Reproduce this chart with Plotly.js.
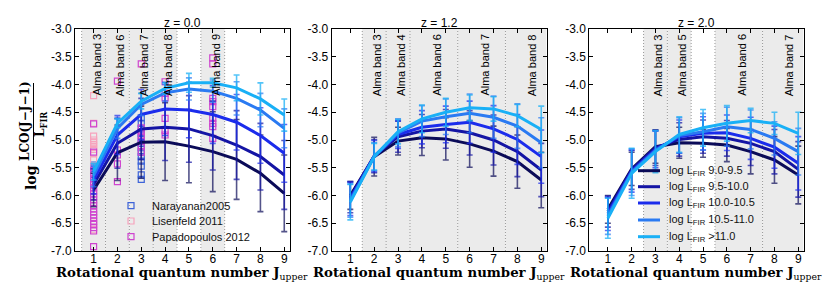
<!DOCTYPE html>
<html><head><meta charset="utf-8">
<script src="https://cdn.plot.ly/plotly-3.0.1.min.js"></script>
<style>html,body{margin:0;padding:0;background:#fff}#chart{width:831px;height:292px}</style>
</head><body><div id="chart"></div>
<script>
// ---------- data ----------
const J = [1, 2, 3, 4, 5, 6, 7, 8, 9];
const xTickLabels = ['1','2','3','4','5','6','7','8','9'];
const yTickVals = [-3.0,-3.5,-4.0,-4.5,-5.0,-5.5,-6.0,-6.5,-7.0];
const yTickLabels = ['-3.0','-3.5','-4.0','-4.5','-5.0','-5.5','-6.0','-6.5','-7.0'];
const panelTitles = ['z = 0.0', 'z = 1.2', 'z = 2.0'];
const lumLabels = ['log L<sub>FIR</sub> 9.0-9.5', 'log L<sub>FIR</sub> 9.5-10.0', 'log L<sub>FIR</sub> 10.0-10.5', 'log L<sub>FIR</sub> 10.5-11.0', 'log L<sub>FIR</sub> >11.0'];

// z = 0.0
const z0_s1 = [-5.90, -5.23, -5.04, -5.03, -5.11, -5.21, -5.35, -5.60, -5.96];
const z0_s2 = [-5.80, -5.06, -4.80, -4.77, -4.80, -4.92, -5.09, -5.30, -5.63];
const z0_s3 = [-5.72, -4.91, -4.54, -4.44, -4.46, -4.54, -4.68, -4.92, -5.24];
const z0_s4 = [-5.64, -4.79, -4.36, -4.15, -4.08, -4.12, -4.25, -4.46, -4.79];
const z0_s5 = [-5.57, -4.70, -4.30, -4.07, -3.97, -3.97, -4.06, -4.26, -4.55];
const z0_e1 = [0.30, 0.50, 0.65, 0.70, 0.66, 0.72, 0.72, 0.69, 0.69];
const z0_e2 = [0.28, 0.45, 0.55, 0.60, 0.60, 0.62, 0.62, 0.60, 0.62];
const z0_e3 = [0.25, 0.35, 0.45, 0.48, 0.50, 0.52, 0.50, 0.50, 0.52];
const z0_e4 = [0.20, 0.18, 0.20, 0.15, 0.20, 0.20, 0.30, 0.30, 0.35];
const z0_e5 = [0.15, 0.08, 0.14, 0.10, 0.17, 0.08, 0.23, 0.29, 0.29];

// z = 1.2
const z1_s1 = [-6.00, -5.30, -5.02, -4.96, -4.98, -5.07, -5.20, -5.39, -5.72];
const z1_s2 = [-6.03, -5.29, -4.94, -4.84, -4.80, -4.87, -5.00, -5.21, -5.54];
const z1_s3 = [-6.06, -5.29, -4.90, -4.77, -4.72, -4.68, -4.80, -4.99, -5.30];
const z1_s4 = [-6.09, -5.30, -4.87, -4.66, -4.58, -4.52, -4.59, -4.75, -5.05];
const z1_s5 = [-6.12, -5.30, -4.85, -4.62, -4.50, -4.42, -4.44, -4.56, -4.81];
const z1_e1 = [0.25, 0.35, 0.25, 0.32, 0.38, 0.42, 0.45, 0.48, 0.50];
const z1_e2 = [0.28, 0.30, 0.28, 0.30, 0.35, 0.40, 0.45, 0.45, 0.48];
const z1_e3 = [0.30, 0.28, 0.25, 0.30, 0.33, 0.38, 0.42, 0.45, 0.48];
const z1_e4 = [0.30, 0.25, 0.25, 0.28, 0.32, 0.35, 0.38, 0.40, 0.45];
const z1_e5 = [0.32, 0.24, 0.22, 0.25, 0.25, 0.23, 0.22, 0.20, 0.42];

// z = 2.0
const z2_s1 = [-6.25, -5.52, -5.12, -5.05, -5.06, -5.09, -5.21, -5.36, -5.63];
const z2_s2 = [-6.29, -5.54, -5.14, -4.99, -4.94, -4.97, -5.06, -5.21, -5.53];
const z2_s3 = [-6.33, -5.56, -5.17, -4.94, -4.88, -4.87, -4.97, -5.13, -5.42];
const z2_s4 = [-6.37, -5.58, -5.19, -4.92, -4.85, -4.76, -4.81, -4.97, -5.21];
const z2_s5 = [-6.41, -5.60, -5.21, -4.90, -4.78, -4.70, -4.65, -4.70, -4.88];
const z2_e1 = [0.25, 0.30, 0.30, 0.28, 0.25, 0.30, 0.40, 0.42, 0.52];
const z2_e2 = [0.28, 0.35, 0.32, 0.30, 0.30, 0.32, 0.40, 0.40, 0.50];
const z2_e3 = [0.30, 0.38, 0.33, 0.30, 0.30, 0.32, 0.38, 0.38, 0.48];
const z2_e4 = [0.33, 0.42, 0.35, 0.32, 0.33, 0.35, 0.35, 0.30, 0.42];
const z2_e5 = [0.36, 0.45, 0.38, 0.32, 0.33, 0.32, 0.22, 0.20, 0.38];

// observations (z = 0.0 panel)
const obsNames = ['Narayanan2005', 'Lisenfeld 2011', 'Papadopoulos 2012'];
const nar_x = [1, 1, 1, 3, 3, 3, 3, 3, 3, 3, 3, 3, 3, 3, 3, 3];
const nar_y = [-5.45, -5.55, -5.62, -4.60, -4.70, -4.80, -4.88, -4.97, -5.06, -5.14, -5.22, -5.30, -5.38, -5.47, -5.63, -5.71];
const lis_x = [1, 1, 1, 1, 1, 1, 1, 1, 1, 1, 1, 1, 1];
const lis_y = [-4.20, -4.70, -4.93, -5.00, -5.04, -5.08, -5.12, -5.17, -5.24, -5.36, -5.48, -6.50, -6.62];
const pap_x = [1,1,1,1,1,1,1,1,1,1,1,1,1,1,1,1,1,1,1,1,1,1,1,1, 2,2,2,2,2, 3,3,3,3,3,3,3, 4,4,4,4,4,4, 6,6,6,6,6,6,6,6,6];
const pap_y = [-4.71,-5.22,-5.55,-5.60,-5.66,-5.70,-5.76,-5.80,-5.86,-5.92,-5.97,-6.02,-6.08,-6.13,-6.18,-6.24,-6.30,-6.35,-6.40,-6.46,-6.52,-6.58,-6.64,-6.92,
               -3.94,-5.18,-5.27,-5.43,-5.75,
               -3.63,-4.78,-4.85,-4.93,-5.02,-5.10,-5.22,
               -3.95,-4.16,-4.24,-4.61,-4.83,-4.91,
               -3.52,-3.63,-4.25,-4.31,-4.40,-4.61,-4.70,-4.76,-4.97];

// ALMA bands per panel (J ranges)
const z0_bandLo = [0.5, 1.5, 2.5, 3.5, 5.5];
const z0_bandHi = [1.5, 2.5, 3.5, 4.5, 6.5];
const z0_bandLabels = ['Alma band 3', 'Alma band 6', 'Alma band 7', 'Alma band 8', 'Alma band 9'];
const z1_bandLo = [1.5, 2.5, 3.5, 5.5, 7.5];
const z1_bandHi = [2.5, 3.5, 5.5, 7.5, 9.5];
const z1_bandLabels = ['Alma band 3', 'Alma band 4', 'Alma band 6', 'Alma band 7', 'Alma band 8'];
const z2_bandLo = [2.5, 3.5, 5.5, 7.5];
const z2_bandHi = [3.5, 4.5, 7.5, 9.5];
const z2_bandLabels = ['Alma band 3', 'Alma band 5', 'Alma band 6', 'Alma band 7'];

// ---------- styling ----------
const lumColors = ['#0b0b58', '#1414a4', '#1b2cec', '#2a7af2', '#19b0f6'];
const errColors = ['rgba(11,11,88,0.7)', 'rgba(20,20,164,0.7)', 'rgba(27,44,236,0.7)', 'rgba(42,122,242,0.7)', 'rgba(25,176,246,0.75)'];
const obsColors = ['#3d63d8', '#f7a3bd', '#cf45cf'];
const W = 831, H = 292;
const xDomains = [[75/W, 289.5/W], [331.7/W, 546.5/W], [589.3/W, 803.5/W]];
const yDomain = [1 - 251/H, 1 - 29/H];
const XMIN = 0.22, XMAX = 9.22;
const SANS = 'Liberation Sans, Arial, sans-serif';
const SERIF = 'DejaVu Serif, Liberation Serif, serif';

const panels = [
  {series: [z0_s1, z0_s2, z0_s3, z0_s4, z0_s5], errs: [z0_e1, z0_e2, z0_e3, z0_e4, z0_e5], lo: z0_bandLo, hi: z0_bandHi, labels: z0_bandLabels},
  {series: [z1_s1, z1_s2, z1_s3, z1_s4, z1_s5], errs: [z1_e1, z1_e2, z1_e3, z1_e4, z1_e5], lo: z1_bandLo, hi: z1_bandHi, labels: z1_bandLabels},
  {series: [z2_s1, z2_s2, z2_s3, z2_s4, z2_s5], errs: [z2_e1, z2_e2, z2_e3, z2_e4, z2_e5], lo: z2_bandLo, hi: z2_bandHi, labels: z2_bandLabels}
];

const traces = [];
const obsX = [nar_x, lis_x, pap_x], obsY = [nar_y, lis_y, pap_y];
for (let k = 0; k < 3; k++) {
  traces.push({
    type: 'scatter', mode: 'markers', x: obsX[k], y: obsY[k], name: obsNames[k],
    xaxis: 'x', yaxis: 'y', showlegend: false,
    marker: {symbol: 'square-open', size: 6, color: obsColors[k], line: {width: 1.2, color: obsColors[k]}}
  });
}

const layout = {
  width: W, height: H,
  margin: {l: 0, r: 0, t: 0, b: 0},
  paper_bgcolor: '#fff', plot_bgcolor: '#fff',
  font: {family: SANS, size: 12, color: '#000'},
  showlegend: false,
  shapes: [], annotations: []
};

panels.forEach((p, pi) => {
  const sfx = pi === 0 ? '' : String(pi + 1);
  const xa = 'x' + sfx, ya = 'y' + sfx;
  p.series.forEach((s, i) => {
    traces.push({
      type: 'scatter', mode: 'lines', x: J, y: s, name: lumLabels[i],
      xaxis: xa, yaxis: ya, showlegend: false,
      line: {color: lumColors[i], width: 3},
      error_y: {type: 'data', array: p.errs[i], visible: true, color: errColors[i], thickness: 1.6, width: 3}
    });
  });
  layout['xaxis' + sfx] = {
    domain: xDomains[pi], range: [XMIN, XMAX], anchor: ya,
    tickvals: J, ticktext: xTickLabels, ticks: 'inside', ticklen: 4, tickcolor: '#000',
    showline: true, linecolor: '#000', linewidth: 1, mirror: 'ticks', ticklabelstandoff: -3,
    showgrid: false, zeroline: false, tickfont: {family: SANS, size: 12, color: '#000'}
  };
  layout['yaxis' + sfx] = {
    domain: yDomain, range: [-7, -3], anchor: xa,
    tickvals: yTickVals, ticktext: yTickLabels, ticks: 'inside', ticklen: 4, tickcolor: '#000',
    showline: true, linecolor: '#000', linewidth: 1, mirror: 'ticks',
    showgrid: false, zeroline: false, tickfont: {family: SANS, size: 12, color: '#000'}
  };
  const bounds = new Set();
  p.lo.forEach((lo, b) => {
    const hi = Math.min(p.hi[b], XMAX);
    layout.shapes.push({type: 'rect', xref: xa, yref: ya + ' domain', x0: lo, x1: hi, y0: 0, y1: 1,
      fillcolor: '#ebebeb', line: {width: 0}, layer: 'below'});
    bounds.add(lo); if (p.hi[b] < XMAX) bounds.add(p.hi[b]);
    layout.annotations.push({xref: xa, yref: ya + ' domain', x: (lo + p.hi[b]) / 2, y: 1, xshift: 3, yshift: -3,
      xanchor: 'center', yanchor: 'top', text: p.labels[b], textangle: -90, showarrow: false,
      font: {family: SANS, size: 11, color: '#000'}});
  });
  bounds.forEach(v => {
    layout.shapes.push({type: 'line', xref: xa, yref: ya + ' domain', x0: v, x1: v, y0: 0, y1: 1,
      line: {color: '#999', width: 1, dash: '1px,2px'}, layer: 'below'});
  });
  layout.annotations.push({xref: xa + ' domain', yref: ya + ' domain', x: 0.5, y: 1, yshift: -3,
    xanchor: 'center', yanchor: 'bottom', text: panelTitles[pi], showarrow: false,
    font: {family: SANS, size: 12, color: '#000'}});
  layout.annotations.push({xref: xa + ' domain', yref: 'paper', x: 0.5, y: 1 - 273/H,
    xanchor: 'center', yanchor: 'middle', showarrow: false,
    text: '<b>Rotational quantum number J</b><sub>upper</sub>',
    font: {family: SERIF, size: 13.3, color: '#000'}});
});

// legend for observations (panel 1)
const obsLegY = [205.7, 221, 236.7];
obsNames.forEach((n, k) => {
  layout.shapes.push({type: 'rect', xref: 'paper', yref: 'paper', x0: 128/W, x1: 134/W,
    y0: 1 - (obsLegY[k] - 3)/H, y1: 1 - (obsLegY[k] + 3)/H, line: {color: obsColors[k], width: 1.2}, fillcolor: 'rgba(0,0,0,0)'});
  layout.annotations.push({xref: 'paper', yref: 'paper', x: 150/W, y: 1 - obsLegY[k]/H, xanchor: 'left', yanchor: 'middle',
    text: n, showarrow: false, font: {family: SANS, size: 11, color: '#111'}});
});
// legend for luminosity bins (panel 3)
const lumLegY = [170.7, 186.7, 203, 220, 236.7];
lumLabels.forEach((n, i) => {
  layout.shapes.push({type: 'line', xref: 'paper', yref: 'paper', x0: 638/W, x1: 660/W,
    y0: 1 - lumLegY[i]/H, y1: 1 - lumLegY[i]/H, line: {color: lumColors[i], width: 3}});
  layout.annotations.push({xref: 'paper', yref: 'paper', x: 667/W, y: 1 - lumLegY[i]/H, xanchor: 'left', yanchor: 'middle',
    text: n, showarrow: false, font: {family: SANS, size: 11, color: '#111'}});
});

// y-axis title of first panel: log (L_CO(J-J-1) / L_FIR)
layout.annotations.push({xref: 'paper', yref: 'paper', x: 31/W, y: 1 - 178/H, xanchor: 'center', yanchor: 'middle',
  text: '<b>log</b>', textangle: -90, showarrow: false, font: {family: SERIF, size: 14, color: '#000'}});
layout.annotations.push({xref: 'paper', yref: 'paper', x: 25/W, y: 1 - 121/H, xanchor: 'center', yanchor: 'middle',
  text: '<b>LCO(J\u2212J\u22121)</b>', textangle: -90, showarrow: false, font: {family: SERIF, size: 12, color: '#000'}});
layout.annotations.push({xref: 'paper', yref: 'paper', x: 41/W, y: 1 - 124/H, xanchor: 'center', yanchor: 'middle',
  text: '<b>L</b><sub><b>FIR</b></sub>', textangle: -90, showarrow: false, font: {family: SERIF, size: 12, color: '#000'}});
layout.shapes.push({type: 'line', xref: 'paper', yref: 'paper', x0: 33.5/W, x1: 33.5/W, y0: 1 - 83/H, y1: 1 - 160/H,
  line: {color: '#000', width: 1}});

Plotly.newPlot('chart', traces, layout, {staticPlot: true, displayModeBar: false});
</script>
</body></html>
